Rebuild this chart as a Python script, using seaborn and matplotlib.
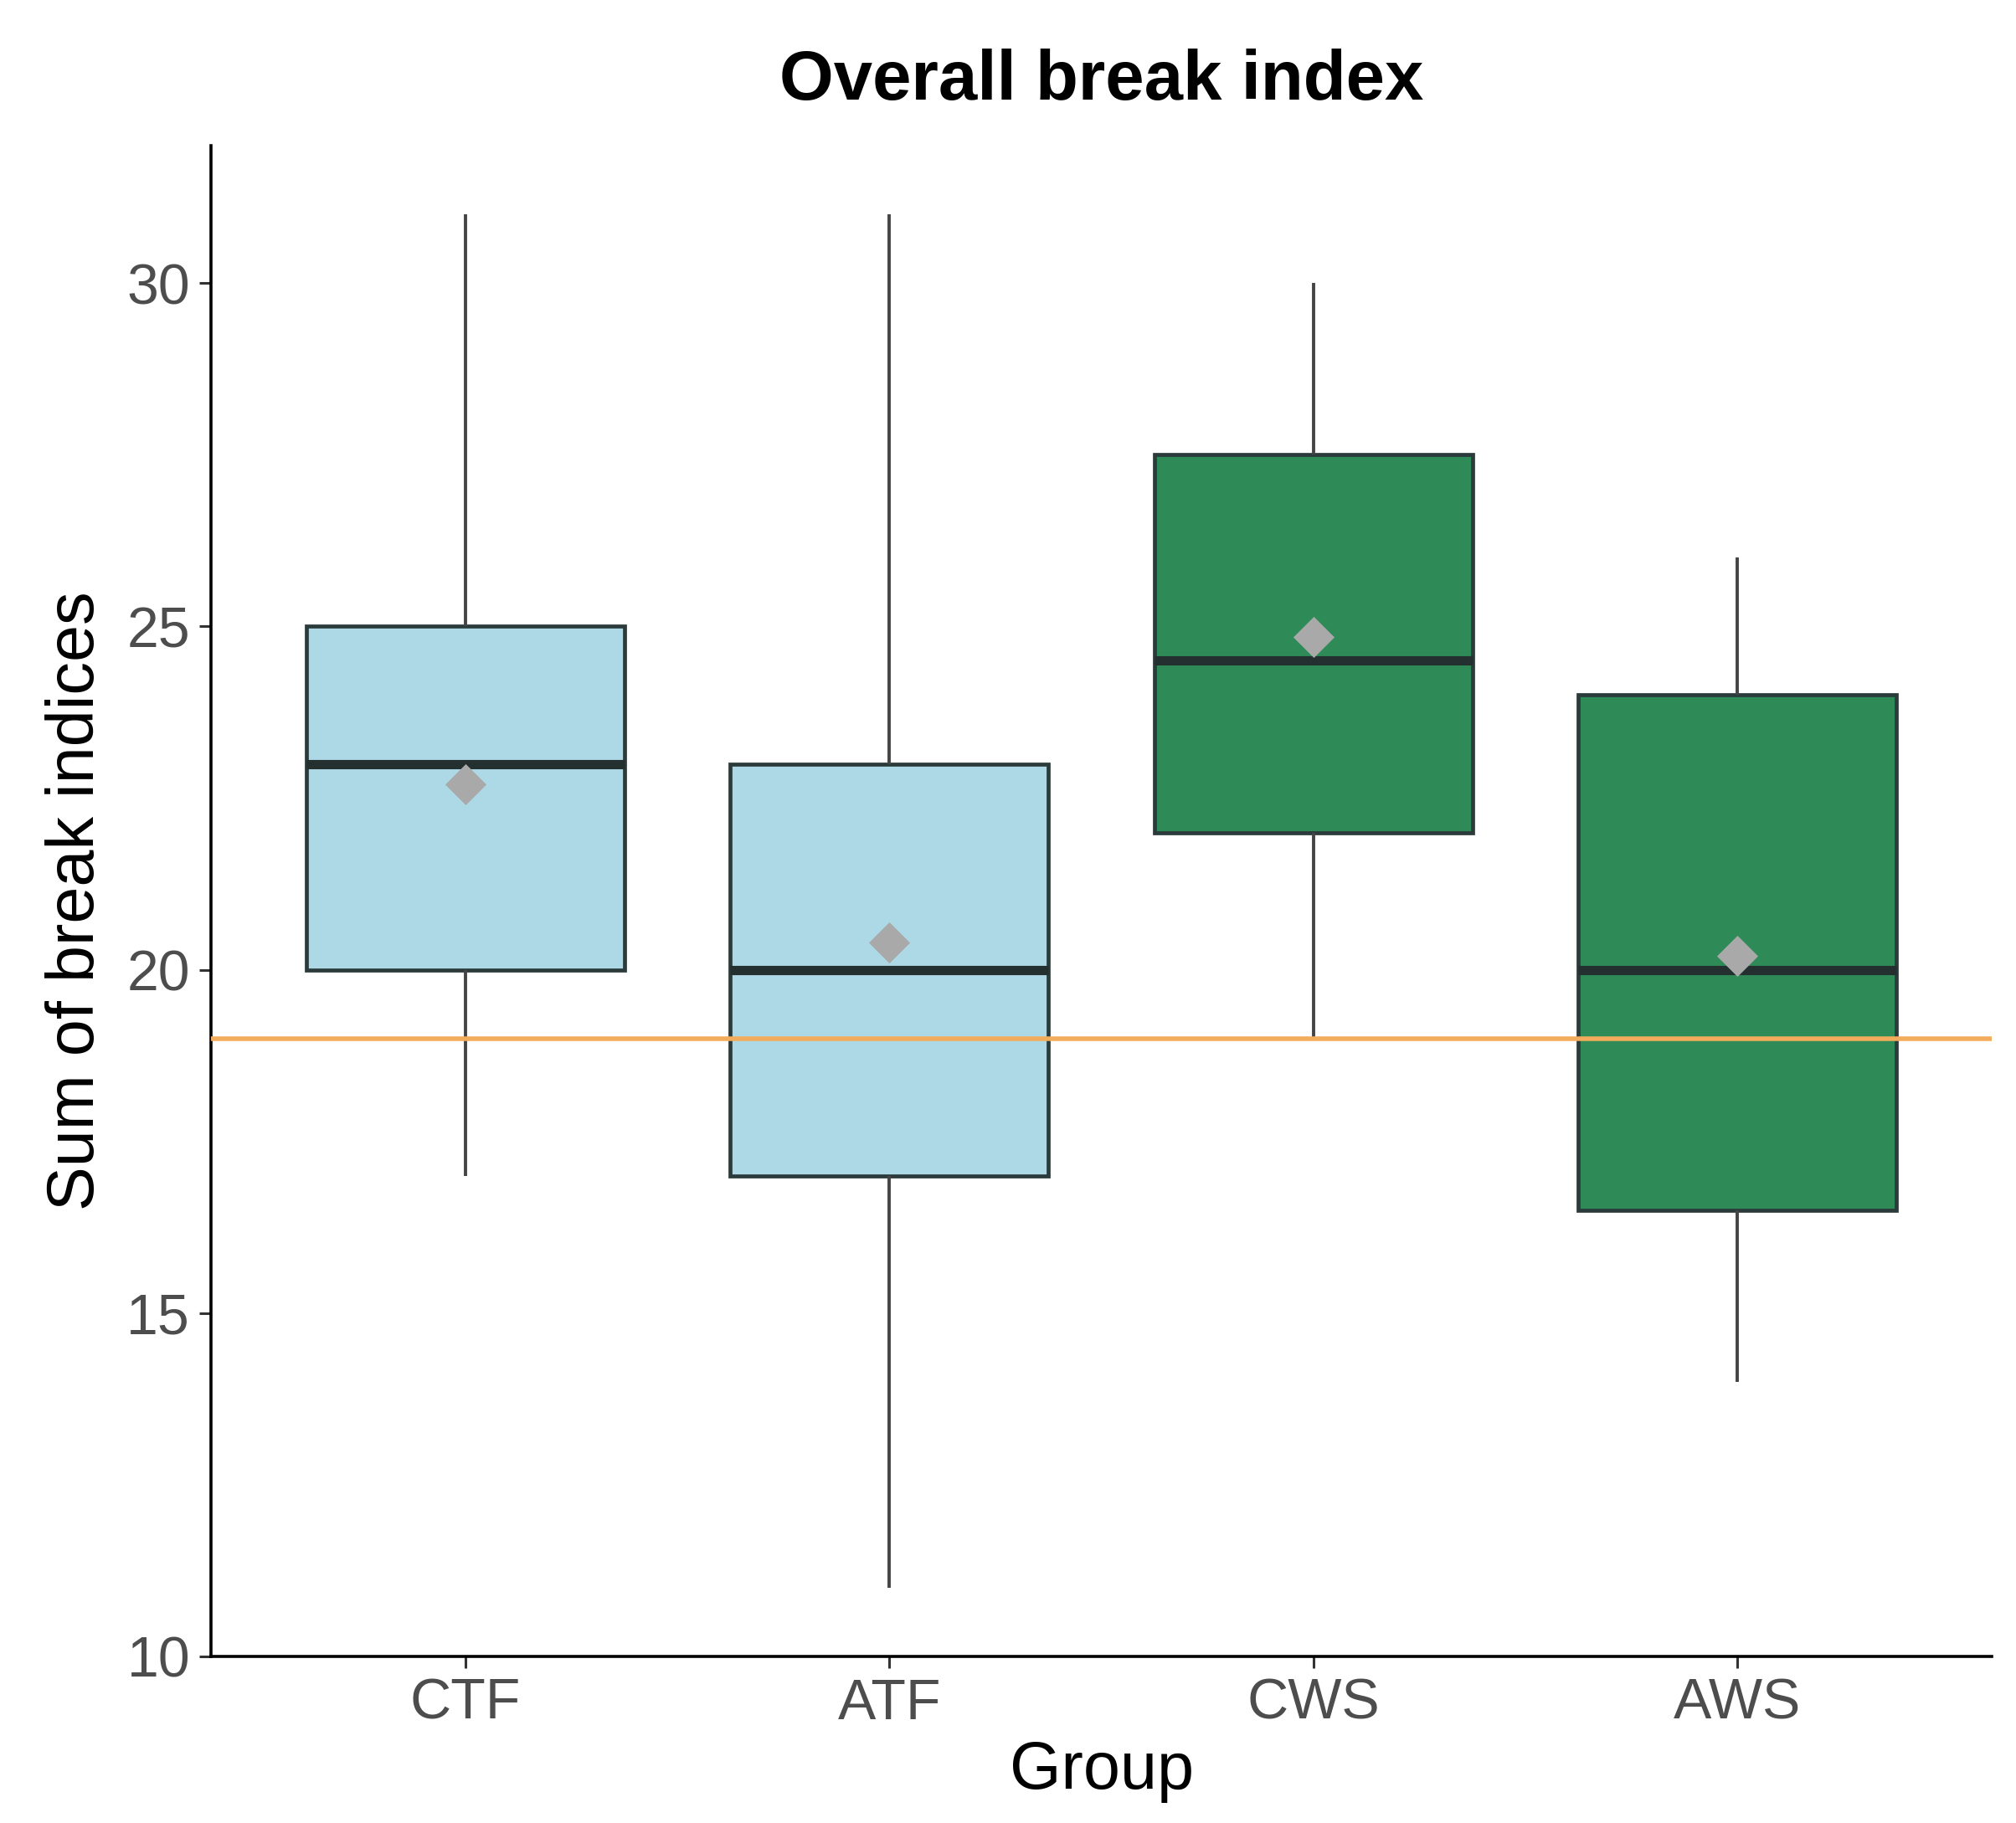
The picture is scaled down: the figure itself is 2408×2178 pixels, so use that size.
import pandas as pd
import seaborn as sns
import matplotlib.pyplot as plt


# 그룹별 박스플롯 요약값
groups = ["CTF", "ATF", "CWS", "AWS"]
whisker_low = [17, 11, 19, 14]
q1 = [20, 17, 22, 16.5]
median = [23, 20, 24.5, 20]
q3 = [25, 23, 27.5, 24]
whisker_high = [31, 31, 30, 26]
means = [22.7, 20.4, 24.85, 20.2]
reference_line = 19

box_colors = {"CTF": "#ADD8E6", "ATF": "#ADD8E6", "CWS": "#2E8B57", "AWS": "#2E8B57"}


# 다섯 개 값으로 사분위수가 그대로 나오는 데이터 구성
rows = []
for i, g in enumerate(groups):
    for v in [whisker_low[i], q1[i], median[i], q3[i], whisker_high[i]]:
        rows.append({"Group": g, "value": v})
df = pd.DataFrame(rows)

mean_df = pd.DataFrame({"Group": groups, "mean": means})


sns.set_theme(style="ticks")
plt.rcParams["font.family"] = ["Liberation Sans", "DejaVu Sans"]

fig = plt.figure(figsize=(12.04, 10.89), dpi=200)
ax = fig.add_axes([0.1047, 0.0914, 0.8833, 0.8286])

edge = "#2B3A3A"

sns.boxplot(
    data=df,
    x="Group",
    y="value",
    hue="Group",
    order=groups,
    palette=box_colors,
    saturation=1,
    legend=False,
    width=0.75,
    whis=(0, 100),
    linecolor=edge,
    linewidth=1.7,
    boxprops={"edgecolor": edge, "linewidth": 1.7},
    medianprops={"color": "#243030", "linewidth": 4},
    whiskerprops={"color": "#444444", "linewidth": 1.4},
    capprops={"linewidth": 0},
    showfliers=False,
    ax=ax,
)

# 평균값 (회색 다이아몬드)
sns.stripplot(
    data=mean_df,
    x="Group",
    y="mean",
    order=groups,
    jitter=False,
    marker="D",
    size=12.5,
    color="#A9A9A9",
    linewidth=0,
    ax=ax,
    zorder=5,
)

ax.axhline(reference_line, color="#F2AC5C", linewidth=2, zorder=4)

ax.set_xlim(-0.6, 3.6)
ax.set_ylim(10, 32)
ax.set_yticks([10, 15, 20, 25, 30])

sns.despine(ax=ax)
for side in ["left", "bottom"]:
    ax.spines[side].set_color("black")
    ax.spines[side].set_linewidth(1.3)

ax.tick_params(axis="both", colors="#333333", labelcolor="#4D4D4D",
               labelsize=24.5, length=5, width=1.1, pad=4)

ax.set_title("Overall break index", fontsize=30, fontweight="bold",
             color="black", pad=20)
ax.set_xlabel("Group", fontsize=28.5, color="black", labelpad=4)
ax.set_ylabel("Sum of break indices", fontsize=28.5, color="black", labelpad=8)

plt.savefig("out.png", dpi=200)
plt.close()
